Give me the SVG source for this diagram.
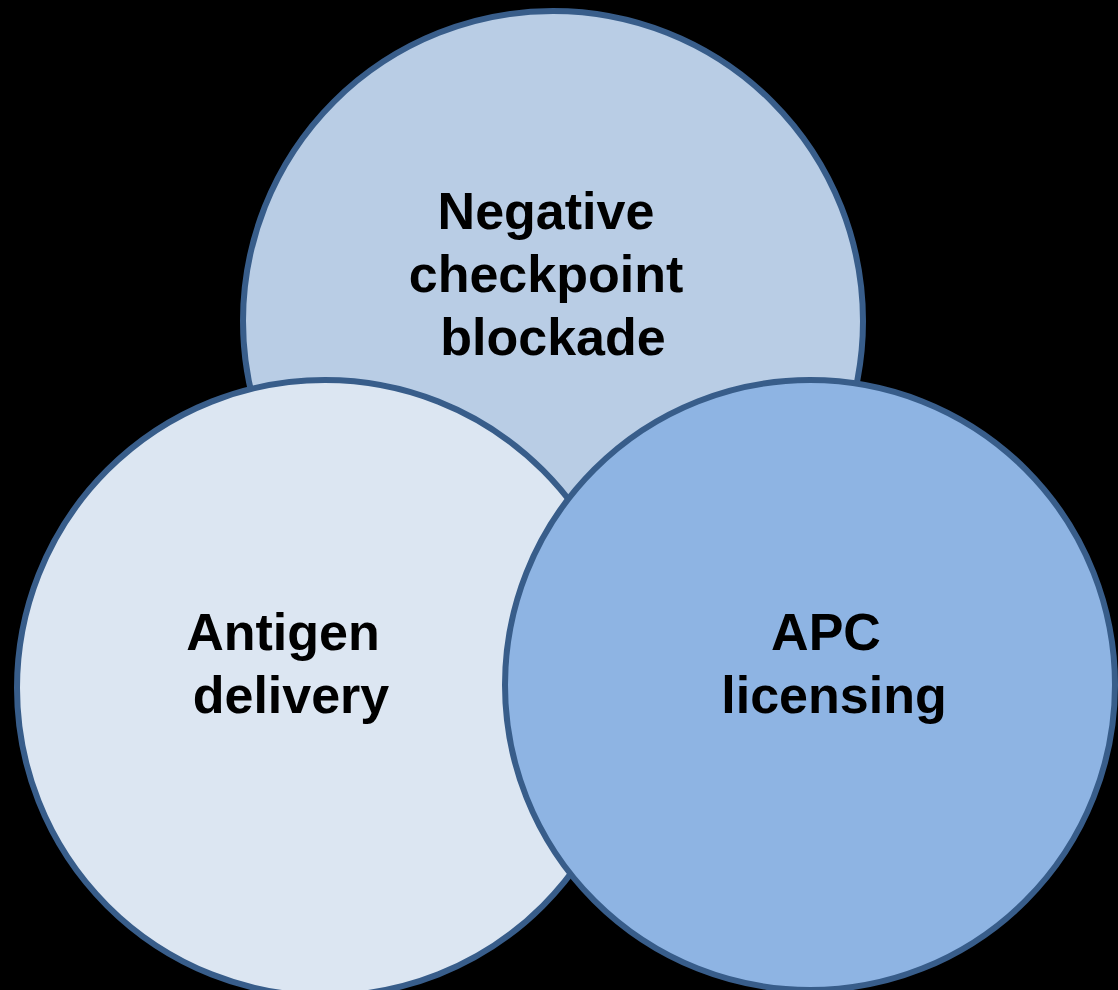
<svg xmlns="http://www.w3.org/2000/svg" width="1118" height="990" viewBox="0 0 1118 990">
<style>
.c{stroke:#385D8A;stroke-width:6}
.t{font-family:"Liberation Sans",Arial,sans-serif;font-weight:bold;font-size:52px;fill:#000;text-anchor:middle}
</style>
<rect width="1118" height="990" fill="#000"/>
<g id="node-checkpoint">
<circle class="c" cx="553" cy="321" r="310" fill="#B9CDE5"/>
<text class="t" x="546" y="229">Negative</text>
<text class="t" x="546" y="292">checkpoint</text>
<text class="t" x="553" y="355">blockade</text>
</g>
<g id="node-antigen">
<circle class="c" cx="325" cy="688" r="308" fill="#DCE6F2"/>
<text class="t" x="283" y="650">Antigen</text>
<text class="t" x="291" y="713">delivery</text>
</g>
<g id="node-apc">
<circle class="c" cx="810" cy="685" r="305" fill="#8EB4E3"/>
<text class="t" x="826" y="650">APC</text>
<text class="t" x="834" y="713">licensing</text>
</g>
<g id="connectors"/>
</svg>
